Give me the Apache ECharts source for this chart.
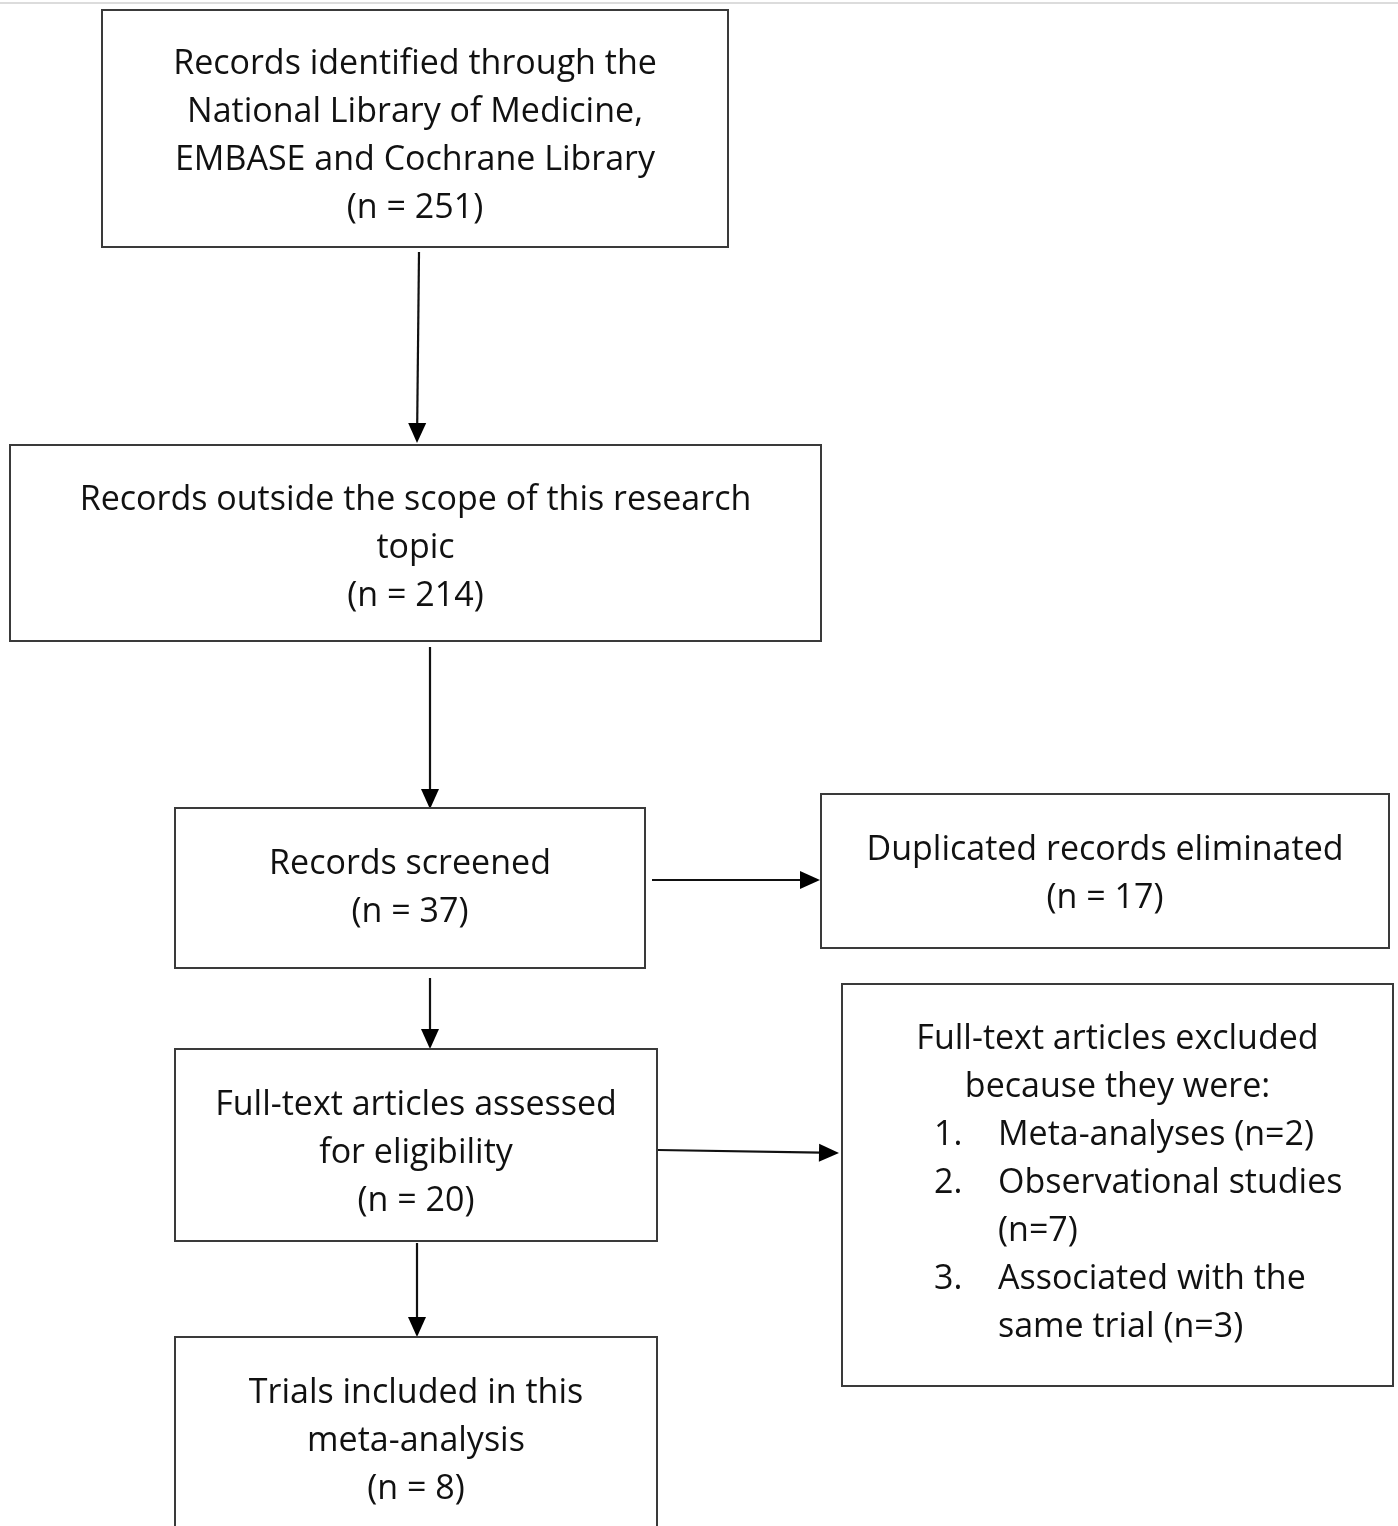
<!DOCTYPE html>
<html><head><meta charset="utf-8">
<script src="https://cdn.jsdelivr.net/npm/echarts@6/dist/echarts.min.js"></script>
<style>html,body{margin:0;padding:0;background:#fff}#c{width:1398px;height:1526px}</style>
</head><body><div id="c"></div>
<script>
// Flowchart boxes (axis units = diagram space)
const boxX0 = [102, 10, 175, 821, 175, 842, 175];
const boxX1 = [728, 821, 645, 1389, 657, 1393, 657];
const boxY0 = [10, 445, 808, 794, 1049, 984, 1337];
const boxY1 = [247, 641, 968, 948, 1241, 1386, 1545];
const boxLines = [
  ["Records identified through the", "National Library of Medicine,", "EMBASE and Cochrane Library", "(n = 251)"],
  ["Records outside the scope of this research", "topic", "(n = 214)"],
  ["Records screened", "(n = 37)"],
  ["Duplicated records eliminated", "(n = 17)"],
  ["Full-text articles assessed", "for eligibility", "(n = 20)"],
  ["Full-text articles excluded", "because they were:"],
  ["Trials included in this", "meta-analysis", "(n = 8)"]
];
// numbered list inside the exclusion box
const listNums = ["1.", "2.", "", "3.", ""];
const listText = ["Meta-analyses (n=2)", "Observational studies", "(n=7)", "Associated with the", "same trial (n=3)"];
// arrows
const edgeX0 = [419, 430, 652, 430, 658, 417];
const edgeY0 = [252, 647, 880, 978, 1150, 1243];
const edgeX1 = [417, 430, 820, 430, 839, 417];
const edgeY1 = [443, 809, 880, 1049, 1153, 1337];

const FONT = '"Open Sans"';
const FS = 34;
const LH = 48;
const TXT = '#111';
const SHIFT = [5, 2, -3, 0, 5, -5, 0]; // vertical nudge of each text block

const boxData = boxX0.map((x, i) => [x, boxY0[i], boxX1[i], boxY1[i], i]);
const edgeData = edgeX0.map((x, i) => [x, edgeY0[i], edgeX1[i], edgeY1[i]]);

function txt(t, x, y, align) {
  return { type: 'text', style: { text: t, x: x, y: y, fill: TXT, fontSize: FS, fontFamily: FONT, align: align, verticalAlign: 'middle' } };
}

function renderBox(params, api) {
  const i = api.value(4);
  const p0 = api.coord([api.value(0), api.value(1)]);
  const p1 = api.coord([api.value(2), api.value(3)]);
  const children = [{
    type: 'rect',
    shape: { x: p0[0], y: p0[1], width: p1[0] - p0[0], height: p1[1] - p0[1] },
    style: { fill: '#fff', stroke: '#3a3a3a', lineWidth: 2 }
  }];
  const lines = boxLines[i];
  const total = lines.length + (i === 5 ? listText.length : 0);
  const cx = (p0[0] + p1[0]) / 2;
  const cy = (p0[1] + p1[1]) / 2;
  let y = cy - (total - 1) * LH / 2 + 3 + SHIFT[i];
  if (i === 6) y = p0[1] + 56;
  lines.forEach(t => { children.push(txt(t, cx, y, 'center')); y += LH; });
  if (i === 5) {
    listText.forEach((t, k) => {
      if (listNums[k]) children.push(txt(listNums[k], p0[0] + 92, y, 'left'));
      children.push(txt(t, p0[0] + 156, y, 'left'));
      y += LH;
    });
  }
  return { type: 'group', children };
}

function renderEdge(params, api) {
  const a = api.coord([api.value(0), api.value(1)]);
  const b = api.coord([api.value(2), api.value(3)]);
  const dx = b[0] - a[0], dy = b[1] - a[1];
  const L = Math.sqrt(dx * dx + dy * dy);
  const ux = dx / L, uy = dy / L;
  const HL = 20, HW = 9;
  const bx = b[0] - ux * HL, by = b[1] - uy * HL;
  return {
    type: 'group', children: [
      { type: 'line', shape: { x1: a[0], y1: a[1], x2: bx + ux * 2, y2: by + uy * 2 }, style: { stroke: '#111', lineWidth: 2.2 } },
      { type: 'polygon', shape: { points: [[b[0], b[1]], [bx - uy * HW, by + ux * HW], [bx + uy * HW, by - ux * HW]] }, style: { fill: '#000' } }
    ]
  };
}

const chart = echarts.init(document.getElementById('c'), null, { renderer: 'canvas' });
chart.setOption({
  animation: false,
  backgroundColor: '#fff',
  grid: { left: 0, right: 0, top: 0, bottom: 0 },
  xAxis: { type: 'value', min: 0, max: 1398, show: false },
  yAxis: { type: 'value', min: 0, max: 1526, inverse: true, show: false },
  graphic: [{ type: 'rect', shape: { x: 0, y: 2, width: 1398, height: 2 }, style: { fill: '#dcdcdc' } }],
  series: [
    { type: 'custom', renderItem: renderEdge, data: edgeData, clip: true, z: 2 },
    { type: 'custom', renderItem: renderBox, data: boxData, clip: true, z: 3 }
  ]
});
</script></body></html>
